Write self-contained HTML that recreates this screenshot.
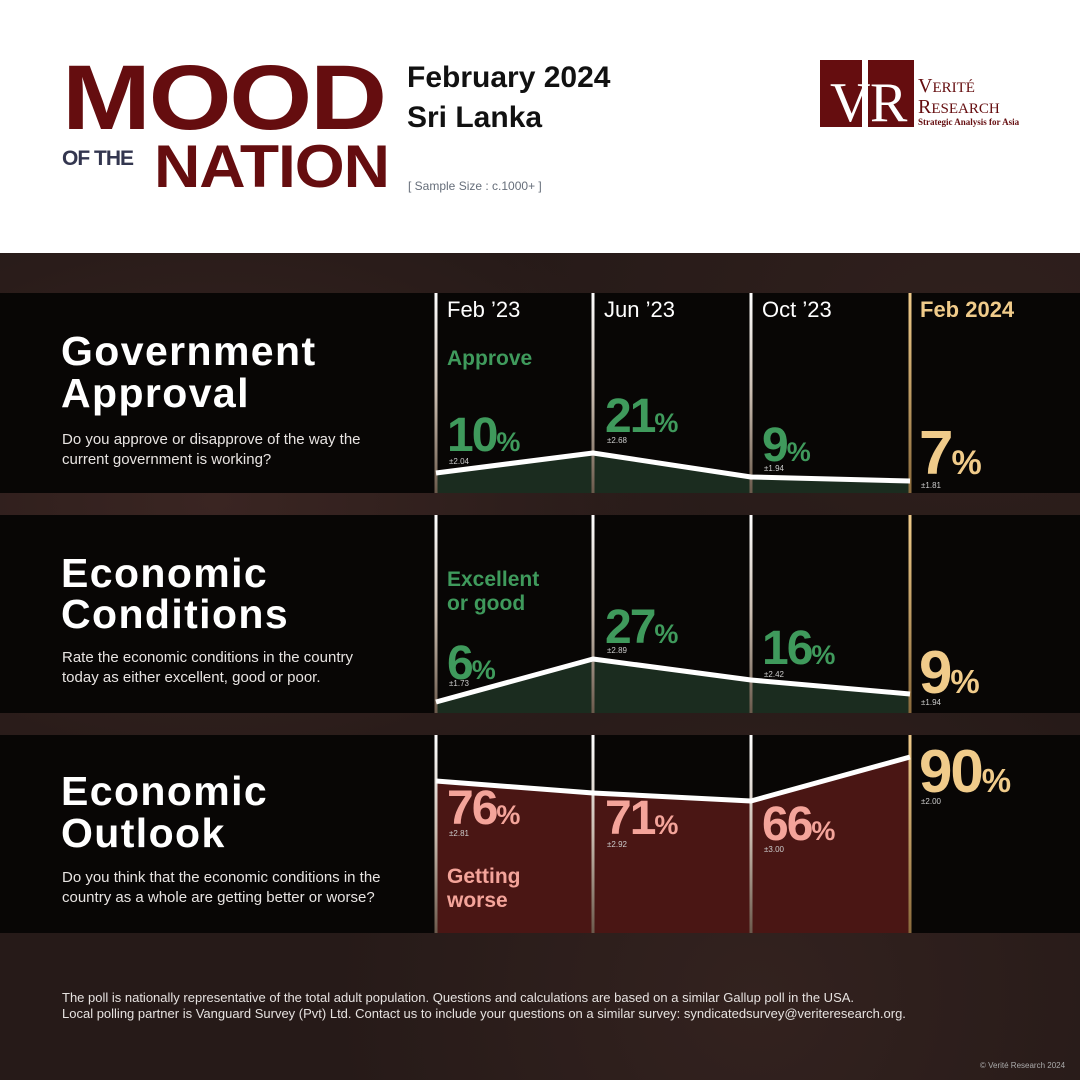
<!DOCTYPE html>
<html><head><meta charset="utf-8"><style>
*{margin:0;padding:0;box-sizing:border-box}
body{width:1080px;height:1080px;position:relative;overflow:hidden;background:#fff;font-family:"Liberation Sans",sans-serif}
.a{position:absolute;white-space:nowrap;line-height:1}
.dark{position:absolute;left:0;top:253px;width:1080px;height:827px;background:#261a18;
background-image:radial-gradient(ellipse at 20% 30%,#3a2522 0,transparent 40%),radial-gradient(ellipse at 70% 90%,#33221f 0,transparent 40%),radial-gradient(ellipse at 90% 10%,#30201d 0,transparent 35%)}
.band{position:absolute;left:0;width:1080px;background:#080605}
.t{color:#fff;font-weight:bold;font-size:41px;letter-spacing:1.4px}
.q{color:#e8e4e2;font-size:15px;line-height:20px;white-space:normal}
.col{color:#fff;font-size:22px}
.lab{font-weight:bold;font-size:21px;line-height:24px}
.n{font-weight:bold;font-size:48px;letter-spacing:-2px}
.n span{font-size:27px;letter-spacing:0}
.m{color:#ccc;font-size:8px}
.g{color:#3f9a5c}.p{color:#f4a49a}.y{color:#f0cb8a}
</style></head><body>
<div class="a" style="left:62px;top:52px;font-size:92px;font-weight:bold;color:#650d0f;transform:scaleX(1.16);transform-origin:left top;letter-spacing:-2px">MOOD</div>
<div class="a" style="left:62px;top:148px;font-size:21px;font-weight:bold;color:#33364f;letter-spacing:-1px">OF THE</div>
<div class="a" style="left:154px;top:137px;font-size:60px;font-weight:bold;color:#650d0f;transform:scaleX(1.07);transform-origin:left top;letter-spacing:-1px">NATION</div>
<div class="a" style="left:407px;top:63px;font-size:30px;font-weight:bold;color:#111">February 2024</div>
<div class="a" style="left:407px;top:103px;font-size:30px;font-weight:bold;color:#111">Sri Lanka</div>
<div class="a" style="left:408px;top:180px;font-size:12px;color:#666e7a">[ Sample Size : c.1000+ ]</div>
<div class="a" style="left:820px;top:60px;width:42px;height:67px;background:#650d0f"></div>
<div class="a" style="left:868px;top:60px;width:46px;height:67px;background:#650d0f"></div>
<div class="a" style="left:830px;top:75px;font-family:'Liberation Serif',serif;font-size:56px;color:#fff">V</div>
<div class="a" style="left:870px;top:75px;font-family:'Liberation Serif',serif;font-size:56px;color:#fff">R</div>
<div class="a" style="left:918px;top:76px;font-family:'Liberation Serif',serif;font-size:20px;color:#650d0f">V<span style="font-size:15px">ERITÉ</span></div>
<div class="a" style="left:918px;top:97px;font-family:'Liberation Serif',serif;font-size:20px;color:#650d0f">R<span style="font-size:15px">ESEARCH</span></div>
<div class="a" style="left:918px;top:118px;font-family:'Liberation Serif',serif;font-size:9px;font-weight:bold;color:#650d0f">Strategic Analysis for Asia</div>

<div class="dark"></div>
<div class="band" style="top:293px;height:200px"></div>
<div class="band" style="top:515px;height:198px"></div>
<div class="band" style="top:735px;height:198px"></div>

<svg class="a" style="left:0;top:0" width="1080" height="1080">
<defs><linearGradient id="w" x1="0" y1="0" x2="0" y2="1"><stop offset="0" stop-color="#fff"/><stop offset="0.5" stop-color="#c9bcb0" /><stop offset="1" stop-color="#6b5a4c"/></linearGradient>
<linearGradient id="gd" x1="0" y1="0" x2="0" y2="1"><stop offset="0" stop-color="#f0cb8a"/><stop offset="1" stop-color="#8a6a3c"/></linearGradient></defs>
<polygon points="436,473 593,453 751,477 910,481 910,493 436,493" fill="#1b2c1f"/>
<polygon points="436,702 593,659 751,680 910,694 910,713 436,713" fill="#1b2c1f"/>
<polygon points="436,781 593,793 751,801 910,757 910,933 436,933" fill="#4a1614"/>
<g>
<rect x="434.5" y="293" width="3" height="200" fill="url(#w)"/><rect x="591.5" y="293" width="3" height="200" fill="url(#w)"/><rect x="749.5" y="293" width="3" height="200" fill="url(#w)"/><rect x="908.5" y="293" width="3" height="200" fill="url(#gd)"/>
<rect x="434.5" y="515" width="3" height="198" fill="url(#w)"/><rect x="591.5" y="515" width="3" height="198" fill="url(#w)"/><rect x="749.5" y="515" width="3" height="198" fill="url(#w)"/><rect x="908.5" y="515" width="3" height="198" fill="url(#gd)"/>
<rect x="434.5" y="735" width="3" height="198" fill="url(#w)"/><rect x="591.5" y="735" width="3" height="198" fill="url(#w)"/><rect x="749.5" y="735" width="3" height="198" fill="url(#w)"/><rect x="908.5" y="735" width="3" height="198" fill="url(#gd)"/>
</g>
<g fill="none" stroke="#fff" stroke-width="5" stroke-linejoin="round">
<polyline points="436,473 593,453 751,477 910,481"/>
<polyline points="436,702 593,659 751,680 910,694"/>
<polyline points="436,781 593,793 751,801 910,757"/>
</g>
</svg>

<div class="a col" style="left:447px;top:299px">Feb ’23</div>
<div class="a col" style="left:604px;top:299px">Jun ’23</div>
<div class="a col" style="left:762px;top:299px">Oct ’23</div>
<div class="a col" style="left:920px;top:299px;font-weight:bold;color:#f0cb8a">Feb 2024</div>

<div class="a t" style="left:61px;top:331px">Government</div>
<div class="a t" style="left:61px;top:373px">Approval</div>
<div class="a q" style="left:62px;top:430px">Do you approve or disapprove of the way the<br>current government is working?</div>
<div class="a t" style="left:61px;top:553px">Economic</div>
<div class="a t" style="left:61px;top:594px">Conditions</div>
<div class="a q" style="left:62px;top:648px">Rate the economic conditions in the country<br>today as either excellent, good or poor.</div>
<div class="a t" style="left:61px;top:771px">Economic</div>
<div class="a t" style="left:61px;top:813px">Outlook</div>
<div class="a q" style="left:62px;top:868px">Do you think that the economic conditions in the<br>country as a whole are getting better or worse?</div>

<div class="a lab g" style="left:447px;top:347px">Approve</div>
<div class="a n g" style="left:447px;top:412px">10<span>%</span></div><div class="a m" style="left:449px;top:458px">±2.04</div>
<div class="a n g" style="left:605px;top:393px">21<span>%</span></div><div class="a m" style="left:607px;top:437px">±2.68</div>
<div class="a n g" style="left:762px;top:422px">9<span>%</span></div><div class="a m" style="left:764px;top:465px">±1.94</div>
<div class="a n y" style="left:919px;top:423px;font-size:62px">7<span style="font-size:34px">%</span></div><div class="a m" style="left:921px;top:482px">±1.81</div>

<div class="a lab g" style="left:447px;top:568px">Excellent<br>or good</div>
<div class="a n g" style="left:447px;top:640px">6<span>%</span></div><div class="a m" style="left:449px;top:680px">±1.73</div>
<div class="a n g" style="left:605px;top:604px">27<span>%</span></div><div class="a m" style="left:607px;top:647px">±2.89</div>
<div class="a n g" style="left:762px;top:625px">16<span>%</span></div><div class="a m" style="left:764px;top:671px">±2.42</div>
<div class="a n y" style="left:919px;top:643px;font-size:60px">9<span style="font-size:33px">%</span></div><div class="a m" style="left:921px;top:699px">±1.94</div>

<div class="a n p" style="left:447px;top:785px">76<span>%</span></div><div class="a m" style="left:449px;top:830px">±2.81</div>
<div class="a n p" style="left:605px;top:795px">71<span>%</span></div><div class="a m" style="left:607px;top:841px">±2.92</div>
<div class="a n p" style="left:762px;top:801px">66<span>%</span></div><div class="a m" style="left:764px;top:846px">±3.00</div>
<div class="a n y" style="left:919px;top:742px;font-size:60px">90<span style="font-size:33px">%</span></div><div class="a m" style="left:921px;top:798px">±2.00</div>
<div class="a lab p" style="left:447px;top:865px">Getting<br>worse</div>

<div class="a" style="left:62px;top:990px;font-size:13px;line-height:16px;color:#e6e2e0">The poll is nationally representative of the total adult population. Questions and calculations are based on a similar Gallup poll in the USA.<br>Local polling partner is Vanguard Survey (Pvt) Ltd. Contact us to include your questions on a similar survey: syndicatedsurvey@veriteresearch.org.</div>
<div class="a" style="left:980px;top:1062px;font-size:8px;color:#aaa">© Verité Research 2024</div>
</body></html>
